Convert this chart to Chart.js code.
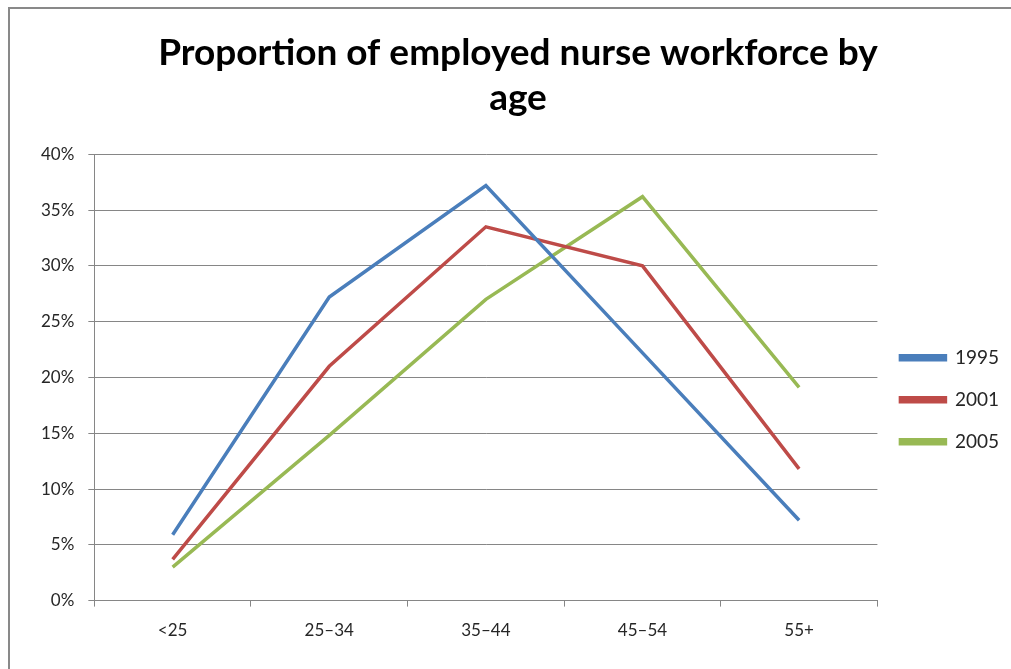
<!DOCTYPE html>
<html>
<head>
<meta charset="utf-8">
<script src="https://cdn.jsdelivr.net/npm/chart.js@4"></script>
<style>
  html, body { margin: 0; padding: 0; background: #fff; }
  #wrap { position: relative; width: 1011px; height: 669px; }
  #frame {
    position: absolute; left: 8px; top: 7px; right: 0; bottom: 0;
    border-top: 2px solid #898989; border-left: 2px solid #898989;
    pointer-events: none;
  }
</style>
</head>
<body>
<div id="wrap">
  <canvas id="nurseChart" width="1011" height="669"></canvas>
  <div id="frame"></div>
</div>
<script>
const ageGroups = ["<25", "25\u201334", "35\u201344", "45\u201354", "55+"];
const share1995 = [5.9, 27.2, 37.2, 22.2, 7.2];
const share2001 = [3.7, 21.0, 33.5, 30.0, 11.8];
const share2005 = [3.0, 14.8, 27.0, 36.2, 19.1];
const yTicks = [0, 5, 10, 15, 20, 25, 30, 35, 40];

const gridGray = "#868686";

const ctx = document.getElementById("nurseChart").getContext("2d");
new Chart(ctx, {
  type: "line",
  data: {
    labels: ageGroups,
    datasets: [
      { label: "1995", data: share1995, borderColor: "#4A7EBB", backgroundColor: "#4A7EBB" },
      { label: "2001", data: share2001, borderColor: "#BE4B48", backgroundColor: "#BE4B48" },
      { label: "2005", data: share2005, borderColor: "#98B954", backgroundColor: "#98B954" },
    ],
  },
  options: {
    responsive: false,
    animation: false,
    layout: { padding: { top: 30, right: 2, left: 27, bottom: 14 } },
    elements: {
      line: { borderWidth: 3.5, tension: 0 },
      point: { radius: 0, hoverRadius: 0 },
    },
    scales: {
      x: {
        offset: true,
        grid: {
          offset: true,
          drawOnChartArea: false,
          drawTicks: true,
          tickLength: 6,
          color: gridGray,
        },
        border: { color: gridGray },
        ticks: {
          padding: 14,
          color: "#262626",
          font: { family: "Lato", size: 17 },
        },
      },
      y: {
        min: 0,
        max: 40,
        afterBuildTicks: function (axis) {
          axis.ticks = yTicks.map(function (v) { return { value: v }; });
        },
        grid: { color: gridGray, tickLength: 6 },
        border: { color: gridGray },
        ticks: {
          padding: 14,
          color: "#262626",
          font: { family: "Lato", size: 17 },
          callback: function (value) {
            return value + "%";
          },
        },
      },
    },
    plugins: {
      title: {
        display: true,
        text: ["Proportion of employed nurse workforce by", "age"],
        color: "#000",
        font: { family: "Lato", size: 37, weight: "bold", lineHeight: 1.22 },
        padding: { top: 0, bottom: 34 },
      },
      legend: {
        position: "right",
        title: {
          display: true,
          text: "",
          padding: { top: 100, bottom: 0 },
          font: { size: 12 },
        },
        labels: {
          boxWidth: 45,
          boxHeight: 4,
          padding: 23,
          color: "#262626",
          font: { family: "Lato", size: 19 },
        },
      },
      tooltip: { enabled: false },
    },
  },
});
</script>
</body>
</html>
